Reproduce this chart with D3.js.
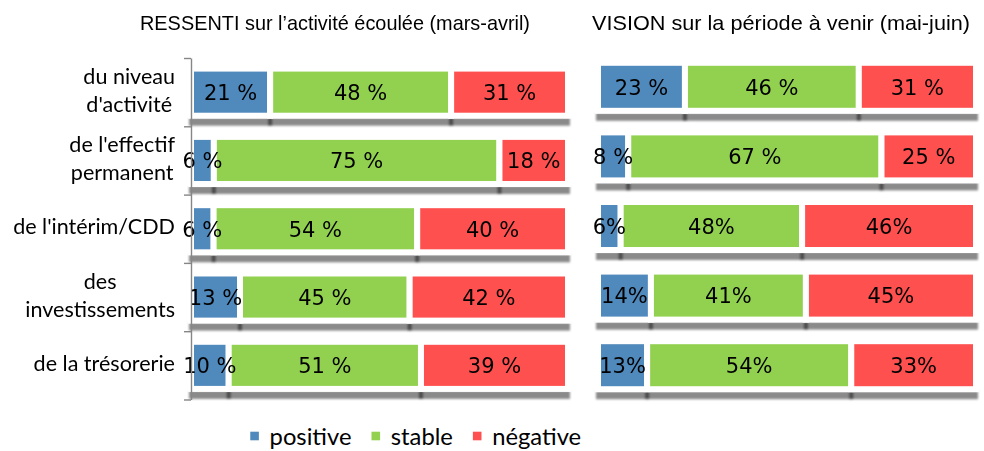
<!DOCTYPE html>
<html><head><meta charset="utf-8">
<script src="https://cdn.jsdelivr.net/npm/d3@7"></script>
<style>body{margin:0;background:#fff}</style>
</head><body>
<svg id="c" width="984" height="451" xmlns="http://www.w3.org/2000/svg"></svg>
<script>
// ---- data ----
const categories = ["du niveau\nd'activité", "de l'effectif\npermanent", "de l'intérim/CDD", "des\ninvestissements", "de la trésorerie"];
const seriesKeys = ["positive", "stable", "négative"];
const seriesColors = ["#5089BC", "#92D050", "#FF5050"];
const panelTitles = ["RESSENTI sur l’activité écoulée (mars-avril)", "VISION sur la période à venir (mai-juin)"];

const ressentiPositive = [21, 6, 6, 13, 10];
const ressentiStable   = [48, 75, 54, 45, 51];
const ressentiNegative = [31, 18, 40, 42, 39];
const ressentiSep = [" ", " ", " ", " ", " "];

const visionPositive = [23, 8, 6, 14, 13];
const visionStable   = [46, 67, 48, 41, 54];
const visionNegative = [31, 25, 46, 45, 33];
const visionSep = [" ", " ", "", "", ""];

// ---- layout ----
const panels = [
  {title: panelTitles[0], values: [ressentiPositive, ressentiStable, ressentiNegative], seps: ressentiSep,
   xr: [191, 568], yr: [58, 399.5], axis: true, tx: 140, tw: 390},
  {title: panelTitles[1], values: [visionPositive, visionStable, visionNegative], seps: visionSep,
   xr: [598, 976], yr: [52, 400], axis: false, tx: 592, tw: 378}
];

const svg = d3.select("#c");
const defs = svg.append("defs");
defs.append("filter").attr("id", "blur")
  .attr("x", "-5%").attr("y", "-100%").attr("width", "110%").attr("height", "300%")
  .append("feGaussianBlur").attr("stdDeviation", 1.3);

function fitSize(family, sample, target, base) {
  const t = svg.append("text").attr("font-family", family).attr("font-size", base).text(sample);
  const w = t.node().getComputedTextLength();
  t.remove();
  return base * target / w;
}
const catFont = "Lato, 'Open Sans', sans-serif";
const catSize = fitSize(catFont, "de l'intérim/CDD", 162, 20);
const legSize = fitSize(catFont, "positive", 82, 20);

panels.forEach((p, pi) => {
  const rows = categories.map((c, i) => {
    const o = {cat: c, idx: i};
    seriesKeys.forEach((k, j) => o[k] = p.values[j][i]);
    return o;
  });
  const stacked = d3.stack().keys(seriesKeys).offset(d3.stackOffsetExpand)(rows);
  const x = d3.scaleLinear().domain([0, 1]).range(p.xr);
  const y = d3.scaleBand().domain(categories).range(p.yr).paddingInner(0.31).paddingOuter(0.155);
  const g = svg.append("g");

  // shadows
  const sh = g.append("g").attr("filter", "url(#blur)");
  stacked.forEach((s) => {
    sh.append("g").selectAll("rect").data(s).join("rect")
      .attr("x", d => x(d[0]) - 2).attr("width", d => x(d[1]) - x(d[0]) + 4)
      .attr("y", d => y(d.data.cat) + y.bandwidth() + 2).attr("height", 8)
      .attr("fill", "#000").attr("opacity", 0.46);
  });

  // bars
  stacked.forEach((s, j) => {
    g.append("g").selectAll("rect").data(s).join("rect")
      .attr("x", d => x(d[0])).attr("width", d => x(d[1]) - x(d[0]))
      .attr("y", d => y(d.data.cat)).attr("height", y.bandwidth())
      .attr("fill", seriesColors[j]).attr("stroke", "#fff").attr("stroke-width", 6);
  });

  // value labels
  stacked.forEach((s, j) => {
    g.append("g").selectAll("text").data(s).join("text")
      .attr("x", d => (x(d[0]) + x(d[1])) / 2)
      .attr("y", d => y(d.data.cat) + y.bandwidth() / 2 + 7.8)
      .attr("text-anchor", "middle")
      .attr("font-family", "'DejaVu Sans', sans-serif").attr("font-size", 21).attr("fill", "#000")
      .text(d => p.values[j][d.data.idx] + p.seps[d.data.idx] + "%");
  });

  // title
  svg.append("text").attr("x", p.tx).attr("y", 30)
    .attr("font-family", "'Liberation Sans', Arial, sans-serif").attr("font-size", 21).attr("fill", "#000")
    .attr("textLength", p.tw).attr("lengthAdjust", "spacingAndGlyphs")
    .text(p.title);

  if (p.axis) {
    const yl = d3.scaleLinear().domain([0, categories.length]).range(p.yr);
    const ax = g.append("g").attr("transform", `translate(${p.xr[0]},0)`)
      .call(d3.axisLeft(yl).tickValues(d3.range(categories.length + 1)).tickFormat("").tickSize(7).tickSizeOuter(0));
    ax.selectAll("path, line").attr("stroke", "#868686").attr("stroke-width", 1.4);

    // category labels
    categories.forEach(c => {
      const lines = c.split("\n");
      const cy = y(c) + y.bandwidth() / 2;
      const t = g.append("text").attr("font-family", catFont).attr("font-size", catSize)
        .attr("fill", "#000").attr("text-anchor", "middle");
      lines.forEach((ln, k) => {
        t.append("tspan").attr("y", cy + 5.6 + (k - (lines.length - 1) / 2) * 28).text(ln);
      });
      let mw = 0;
      t.selectAll("tspan").each(function () { mw = Math.max(mw, this.getComputedTextLength()); });
      t.selectAll("tspan").attr("x", 175 - mw / 2);
    });
  }
});

// legend
const leg = svg.append("g");
let lx = 0;
seriesKeys.forEach((k, j) => {
  const it = leg.append("g");
  it.append("rect").attr("x", lx).attr("y", 431.7).attr("width", 8.6).attr("height", 8.6).attr("fill", seriesColors[j]);
  const t = it.append("text").attr("x", lx + 19.3).attr("y", 444.5)
    .attr("font-family", catFont).attr("font-size", legSize).attr("fill", "#000").text(k);
  lx += 19.3 + t.node().getComputedTextLength() + 20;
});
const legW = lx - 20;
leg.attr("transform", `translate(${415.7 - legW / 2},0)`);
</script>
</body></html>
